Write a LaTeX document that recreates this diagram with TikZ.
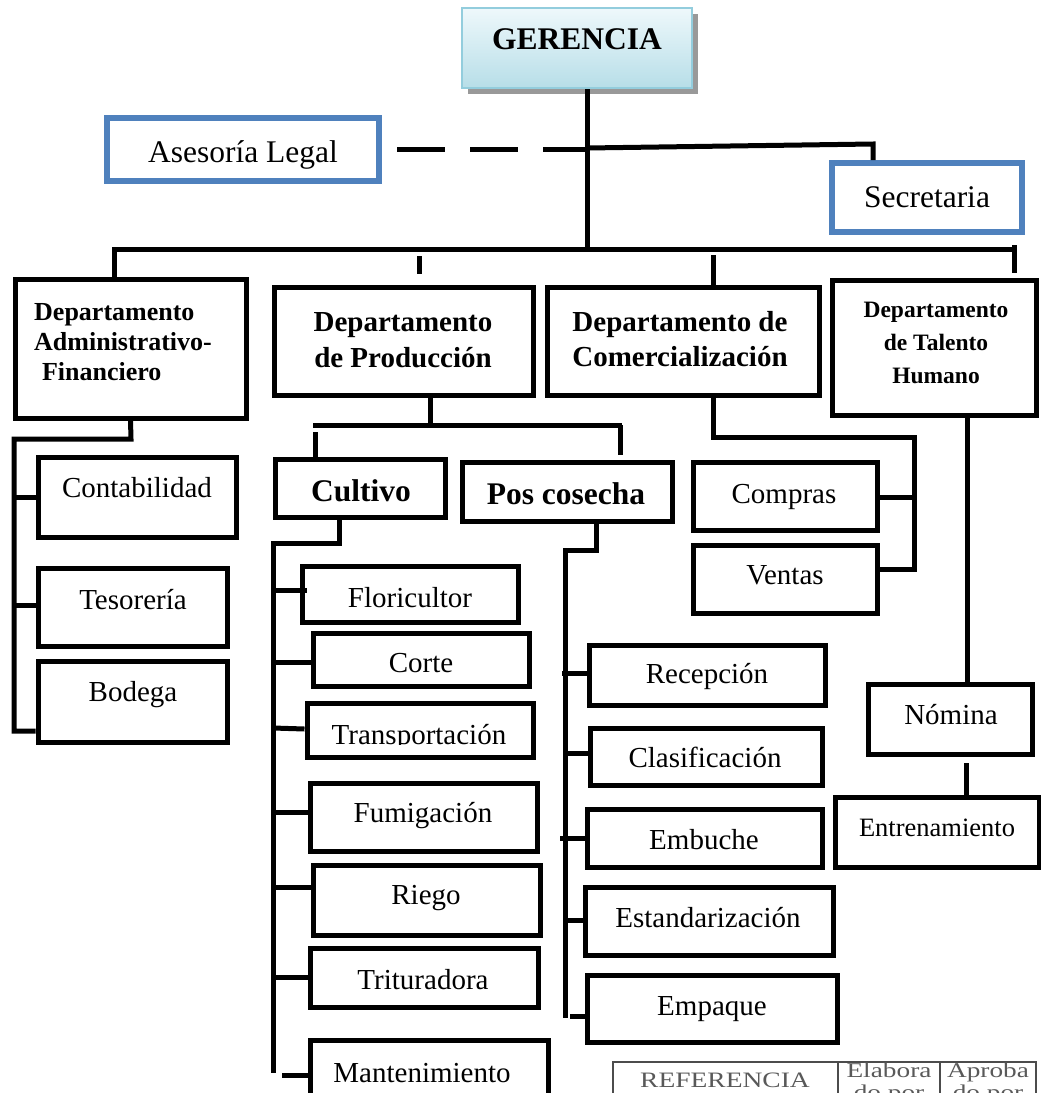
\documentclass[tikz,border=0pt]{standalone}
\usepackage{fontspec}
\setmainfont{Liberation Serif}
\usetikzlibrary{calc}
\definecolor{ofblue}{HTML}{4F81BD}
\definecolor{gerb}{HTML}{93CDDD}
\definecolor{gertop}{HTML}{EEF8FB}
\definecolor{gerbot}{HTML}{B7DEE8}
\newcommand\mkbox[6][]{\node[bx,#1,minimum width={(#4)-(#2)},minimum height={(#5)-(#3)}] (#6) at ({((#2)+(#4))/2},{((#3)+(#5))/2}) {};}
\tikzset{
  bx/.style={draw=black, line width=5pt, inner sep=0pt, rectangle},
  bbx/.style={draw=ofblue, line width=6pt},
  tblc/.style={draw=black!70, line width=2pt},
  ln/.style={line width=5pt, draw=black},
  tx/.style={inner sep=0pt, text=black},
  r29/.style={tx, font={\fontsize{29}{35}\selectfont}, text height=19pt, text depth=0pt},
  r31/.style={tx, font={\fontsize{31.5}{37}\selectfont}, text height=20.5pt, text depth=0pt},
  r26/.style={tx, font={\fontsize{26.5}{32}\selectfont}, text height=17.5pt, text depth=0pt},
  b31/.style={tx, font={\fontsize{31.5}{37}\selectfont\bfseries}, text height=20.5pt, text depth=0pt},
}
\begin{document}
\begin{tikzpicture}[x=1pt,y=-1pt]
\useasboundingbox (0,0) rectangle (1041,1093);
\clip (0,0) rectangle (1041,1093);

% ---------- top level ----------
\fill[black!40] (468,14) rectangle (698,94);
\mkbox[draw=gerb, line width=2.5pt, top color=gertop, bottom color=gerbot]{462}{8}{692}{88}{ger}
\node[b31] (tger) at (577,39) {GERENCIA};

\mkbox[bbx]{107}{118}{379}{181}{asl}
\node[r31] (tasl) at (243,152) {Asesoría Legal};
\mkbox[bbx]{832}{163}{1022}{232}{sec}
\node[r31] (tsec) at (927,197) {Secretaria};

% departments
\mkbox{15}{279}{246}{418}{adm}
\node[tx, anchor=west, align=left, font={\fontsize{26}{30}\selectfont\bfseries}] (tadm) at (34,342) {Departamento\\Administrativo-\\\hspace*{0.3em}Financiero};
\mkbox{274}{287}{533}{395}{pro}
\node[tx, align=center, font={\fontsize{29}{36}\selectfont\bfseries}] (tpro) at (403,340) {Departamento\\de Producción};
\mkbox{547}{287}{819}{395}{com}
\node[tx, align=center, font={\fontsize{29}{35}\selectfont\bfseries}] (tcom) at (680,339) {Departamento de\\Comercialización};
\mkbox{832}{280}{1036}{415}{tal}
\node[tx, align=center, font={\fontsize{23.5}{33}\selectfont\bfseries}] (ttal) at (936,343) {Departamento\\de Talento\\Humano};

% admin children
\mkbox{38}{457}{236}{537}{cont}
\node[r29] (tcont) at (137,488) {Contabilidad};
\mkbox{38}{568}{227}{646}{teso}
\node[r29] (tteso) at (133,600) {Tesorería};
\mkbox{38}{661}{227}{742}{bode}
\node[r29] (tbode) at (133,692) {Bodega};

% production children
\mkbox{275}{459}{445}{517}{cult}
\node[b31] (tcult) at (361,491) {Cultivo};
\mkbox{462}{462}{672}{521}{posc}
\node[b31] (tposc) at (566,494) {Pos cosecha};

\mkbox{302}{566}{518}{622}{flor}
\node[r29] (tflor) at (410,598) {Floricultor};
\mkbox{313}{633}{529}{686}{cort}
\node[r29] (tcort) at (421,663) {Corte};
\mkbox{307}{703}{533}{757}{tran}
\begin{scope}
\clip (310,700) rectangle (530,744);
\node[r29] (ttran) at (419,735) {Transportación};
\end{scope}
\mkbox{310}{783}{537}{851}{fumi}
\node[r29] (tfumi) at (423,813) {Fumigación};
\mkbox{313}{865}{540}{935}{rieg}
\node[r29] (trieg) at (426,895) {Riego};
\mkbox{310}{948}{538}{1007}{trit}
\node[r29] (ttrit) at (423,980) {Trituradora};
\mkbox{310}{1040}{548}{1112}{mant}
\node[r29] (tmant) at (422,1073) {Mantenimiento};

\mkbox{589}{645}{825}{705}{rece}
\node[r29] (trece) at (707,674) {Recepción};
\mkbox{590}{728}{822}{785}{clas}
\node[r29] (tclas) at (705,758) {Clasificación};
\mkbox{587}{809}{822}{867}{embu}
\node[r29] (tembu) at (704,840) {Embuche};
\mkbox{585}{887}{833}{955}{esta}
\node[r29] (testa) at (708,918) {Estandarización};
\mkbox{587}{975}{837}{1042}{empa}
\node[r29] (tempa) at (712,1006) {Empaque};

% commercial children
\mkbox{693}{462}{877}{530}{comp}
\node[r29] (tcomp) at (784,494) {Compras};
\mkbox{693}{545}{877}{613}{vent}
\node[r29] (tvent) at (785,575) {Ventas};

% talent children
\mkbox{868}{684}{1032}{754}{nomi}
\node[r29] (tnomi) at (951,715) {Nómina};
\mkbox{835}{797}{1039}{867}{entr}
\node[r26] (tentr) at (937,828) {Entrenamiento};

% ---------- connectors ----------
\coordinate (tk) at (587,249);
\draw[ln] (ger.south -| tk) -- (tk);
\coordinate (bl) at (114,249);
\coordinate (br) at (1016,249);
\draw[ln] (bl |- adm.north) -- (bl) -- (br);
\coordinate (ptk) at (419,256);
\draw[ln] (ptk) -- ++(0,18);
\coordinate (ctk) at (713,255);
\draw[ln] (ctk) -- (ctk |- com.north);
\coordinate (ttk) at (1014,245);
\draw[ln] (ttk) -- ++(0,28);

\draw[ln, dash pattern=on 48pt off 25pt] ($(asl.east)+(15,0)$) -- (587,149.5);
\coordinate (sj) at (587,148);
\coordinate (sc) at (873,144);
\draw[ln] (sj) -- (sc) -- (sc |- sec.north);

% admin subtree
\draw[ln] (adm.south) -- (131,439) -- (14,439) -- (14,731) -- (14,731 -| bode.west);
\draw[ln] (14,497) -- (14,497 -| cont.west);
\draw[ln] (14,605) -- (14,605 -| teso.west);

% production subtree
\draw[ln] (pro.south -| 430,0) -- (430,425);
\draw[ln] (313,425) -- (622,425);
\draw[ln] (315,432) -- (cult.north -| 315,0);
\draw[ln] (620,425) -- (620,455);

% cultivo subtree
\draw[ln] (cult.south -| 339,0) -- (339,543) -- (273,543) -- (273,1073);
\draw[ln] (273,590) -- (307,590);
\draw[ln] (273,662) -- (273,662 -| cort.west);
\draw[ln] (273,728) -- (273,729 -| tran.west);
\draw[ln] (273,812) -- (273,812 -| fumi.west);
\draw[ln] (273,887) -- (273,887 -| rieg.west);
\draw[ln] (273,977) -- (273,977 -| trit.west);
\draw[ln] (282,1075) -- (282,1075 -| mant.west);

% pos cosecha subtree
\draw[ln] (posc.south -| 596,0) -- (596,550) -- (565,550) -- (565,1018);
\draw[ln] (562,673) -- (562,673 -| rece.west);
\draw[ln] (563,753) -- (563,753 -| clas.west);
\draw[ln] (560,838) -- (560,838 -| embu.west);
\draw[ln] (565,920) -- (565,920 -| esta.west);
\draw[ln] (570,1016) -- (570,1016 -| empa.west);

% commercial subtree
\draw[ln] (com.south -| 713,0) -- (713,437) -- (914,437) -- (914,569) -- (914,569 -| vent.east);
\draw[ln] (914,497) -- (914,497 -| comp.east);

% talent subtree
\draw[ln] (tal.south -| 967,0) -- (nomi.north -| 967,0);
\draw[ln] (966,763) -- (entr.north -| 966,0);

% ---------- reference table ----------
\mkbox[tblc]{613}{1062}{838}{1120}{refc}
\mkbox[tblc]{838}{1062}{940}{1120}{elab}
\mkbox[tblc]{940}{1062}{1036}{1120}{aprob}
\node[tx, text=black!65, font={\fontsize{22}{26}\selectfont}, text height=14.5pt, text depth=0pt] (tref) at (725,1080) {\scalebox{1.25}[1]{REFERENCIA}};
\node[tx, text=black!65, align=center, font={\fontsize{21}{22}\selectfont}] (telab) at (889,1083) {\scalebox{1.3}[1]{Elabora}\\\scalebox{1.3}[1]{do por}};
\node[tx, text=black!65, align=center, font={\fontsize{21}{22}\selectfont}] (tapro) at (988,1083) {\scalebox{1.3}[1]{Aproba}\\\scalebox{1.3}[1]{do por}};
\end{tikzpicture}
\end{document}
